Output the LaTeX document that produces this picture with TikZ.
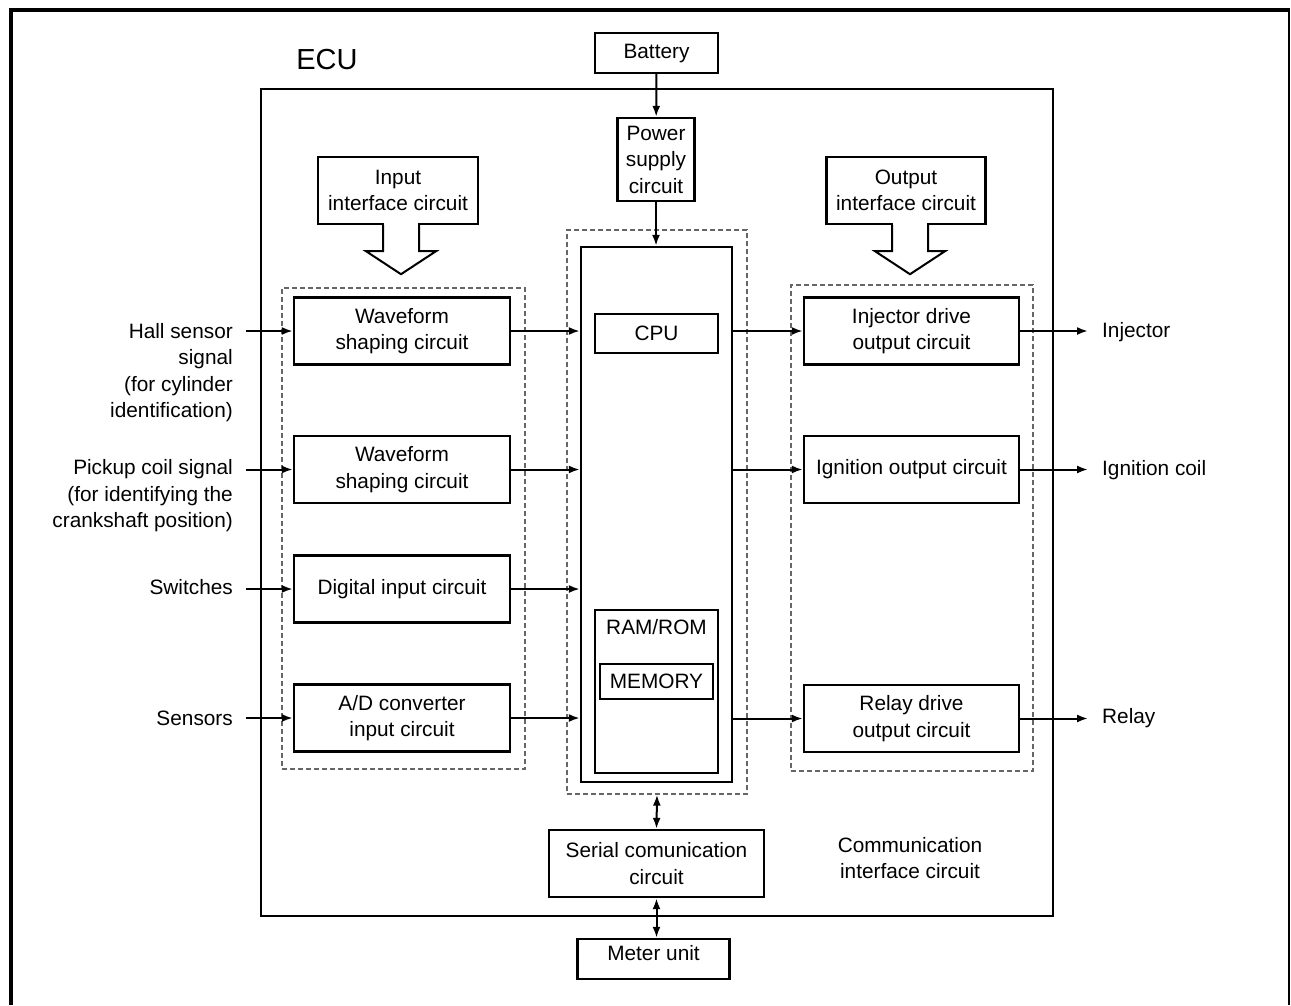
\documentclass[tikz,border=0pt]{standalone}
\usepackage{fontspec}
\setmainfont{Liberation Sans}
\usetikzlibrary{calc,arrows.meta,positioning}
\newcommand{\txtfont}{\fontsize{20.8}{26.5}\selectfont}
\tikzset{
  box/.style={draw, line width=2.4pt, align=center, inner sep=0pt, font=\txtfont},
  grp/.style={draw=black!60, dash pattern=on 5pt off 3pt, line width=1.3pt, inner sep=0pt},
  sig/.style={line width=2pt, -{Latex[length=11pt,width=8pt]}},
  bisig/.style={line width=2pt, {Latex[length=11pt,width=8pt]}-{Latex[length=11pt,width=8pt]}},
  lbl/.style={font=\txtfont, inner sep=0pt}
}

\begin{document}
\begin{tikzpicture}[x=1pt, y=-1pt]
\useasboundingbox (0,0) rectangle (1291,1005);
% page frame
\draw[line width=4pt] (11,1005) -- (11,10) -- (1290,10);
\draw[line width=2.5pt] (1289,10) -- (1289,1005);

% ECU housing
\node[draw, line width=2.6pt, minimum width=792, minimum height=827, inner sep=0pt] (ecu) at (656.8,502.5) {};
\node[lbl, font=\fontsize{29}{33}\selectfont] (ecutitle) at (327,60) {ECU};

% dashed groups
\node[grp, minimum width=243, minimum height=481] (ingrp) at (403.5,528.5) {};
\node[grp, minimum width=180, minimum height=564] (cpugrp) at (657,512) {};
\node[grp, minimum width=242, minimum height=486] (outgrp) at (912,528) {};

% supply
\node[box, minimum width=123, minimum height=40] (battery) at (656.5,53) {Battery};
\node[box, minimum width=77, minimum height=83] (power) at (656,159.5) {Power\\supply\\circuit};

% centre
\node[box, minimum width=151, minimum height=535] (cpuframe) at (656.5,514.5) {};
\node[box, minimum width=123, minimum height=39] (cpu) at (656.5,333.5) {CPU};
\node[box, minimum width=123, minimum height=163] (ramrom) at (656.5,691.5) {};
\node[lbl] (ramromlbl) at ($(ramrom.north)+(0,18)$) {RAM/ROM};
\node[box, minimum width=113, minimum height=35] (memory) at (656.5,681.5) {MEMORY};

% input side
\node[box, minimum width=216, minimum height=67] (wave1) at (402,331) {Waveform\\shaping circuit};
\node[box, minimum width=216, minimum height=67] (wave2) at (402,469.5) {Waveform\\shaping circuit};
\node[box, minimum width=216, minimum height=67] (digin) at (402,589) {Digital input circuit};
\node[box, minimum width=216, minimum height=67] (adconv) at (402,718) {A/D converter\\input circuit};

% output side
\node[box, minimum width=215, minimum height=67] (injdrv) at (911.5,331) {Injector drive\\output circuit};
\node[box, minimum width=215, minimum height=67] (ignout) at (911.5,469.5) {Ignition output circuit};
\node[box, minimum width=215, minimum height=67] (relaydrv) at (911.5,718.5) {Relay drive\\output circuit};

% interfaces
\node[box, minimum width=160, minimum height=67] (inif) at (398,190.5) {Input\\interface circuit};
\node[box, minimum width=159, minimum height=67] (outif) at (906,190.5) {Output\\interface circuit};

% communication
\node[box, minimum width=215, minimum height=67] (serial) at (656.5,863.5) {Serial comunication\\circuit};
\node[box, minimum width=152, minimum height=40, text depth=12pt] (meter) at (653.5,959) {Meter unit};
\node[lbl, align=center] (commif) at (910,858) {Communication\\interface circuit};

% signals in and out
\node[lbl, align=right, anchor=east] (hallsig) at (233,372.5) {Hall sensor\\signal\\(for cylinder\\identification)};
\node[lbl, align=right, anchor=east] (pickup) at (233,496) {Pickup coil signal\\(for identifying the\\crankshaft position)};
\node[lbl, anchor=east] (switches) at (233,587) {Switches};
\node[lbl, anchor=east] (sensors) at (233,718) {Sensors};
\node[lbl, anchor=west] (injector) at (1102,332) {Injector};
\node[lbl, anchor=west] (igncoil) at (1102,470) {Ignition coil};
\node[lbl, anchor=west] (relay) at (1102,718) {Relay};

% connectors
\draw[sig] (battery) -- (power);
\draw[sig] (power) -- (power.south |- cpuframe.north);
\foreach \s/\b in {hallsig/wave1, pickup/wave2, switches/digin, sensors/adconv} {
  \draw[sig] ($(\s.east |- \b.west)+(13,0)$) -- (\b.west);
  \draw[sig] (\b.east) -- (cpuframe.west |- \b.east);
}
\foreach \b/\t in {injdrv/injector, ignout/igncoil, relaydrv/relay} {
  \draw[sig] (cpuframe.east |- \b.west) -- (\b.west);
  \draw[sig] (\b.east) -- ($(\t.west |- \b.east)+(-14,0)$);
}
\draw[bisig] (cpugrp.south) -- (serial.north);
\draw[bisig] (serial.south) -- (serial.south |- meter.north);

% hollow arrows from the interface boxes
\foreach \i/\dx in {inif/3, outif/4} {
  \fill[white] ($(\i.south)+(\dx-17,-2)$) rectangle ($(\i.south)+(\dx+17,2)$);
  \draw[line width=2pt, line join=miter] ($(\i.south)+(\dx-18,0)$) -- ++(0,26) -- ++(-17,0)
    -- ($(\i.south)+(\dx,49)$) -- ($(\i.south)+(\dx+35,26)$) -- ++(-17,0) -- ++(0,-26);
}
\end{tikzpicture}
\end{document}
